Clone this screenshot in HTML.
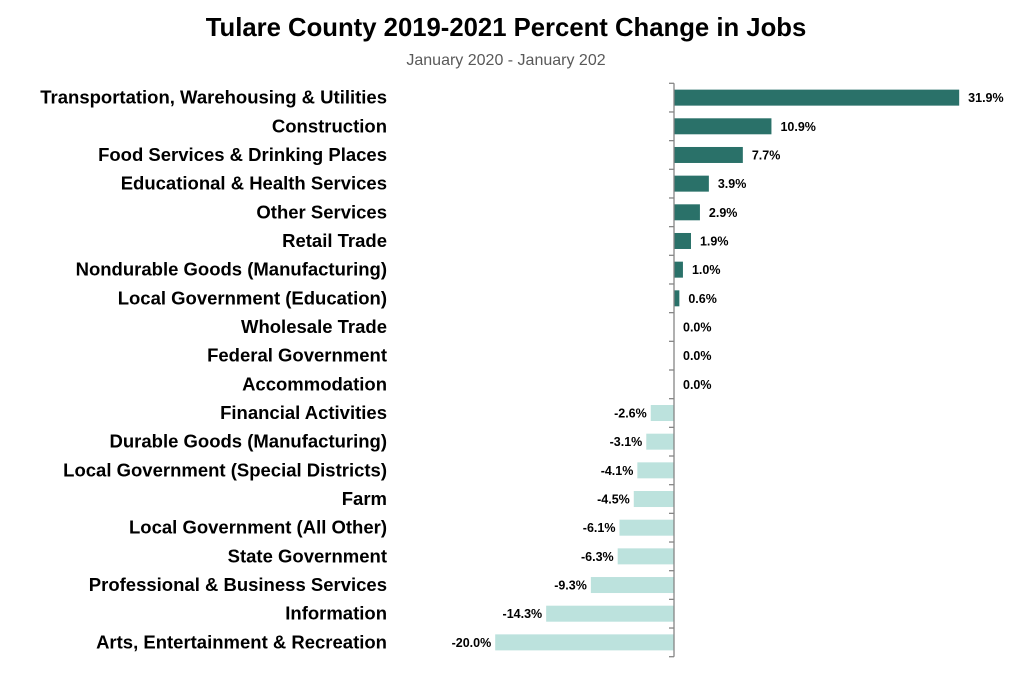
<!DOCTYPE html>
<html><head><meta charset="utf-8"><style>
body{margin:0;background:#fff;font-family:"Liberation Sans",sans-serif}
</style></head><body>
<svg id="chart" width="1011" height="671" xmlns="http://www.w3.org/2000/svg">
<text x="506" y="36" text-anchor="middle" font-size="25.7" font-weight="bold" fill="#000">Tulare County 2019-2021 Percent Change in Jobs</text>
<text x="506" y="65" text-anchor="middle" font-size="16" fill="#595959">January 2020 - January 202</text>
<g id="bars"></g>
</svg>
<script>
const categories=["Transportation, Warehousing & Utilities","Construction","Food Services & Drinking Places","Educational & Health Services","Other Services","Retail Trade","Nondurable Goods (Manufacturing)","Local Government (Education)","Wholesale Trade","Federal Government","Accommodation","Financial Activities","Durable Goods (Manufacturing)","Local Government (Special Districts)","Farm","Local Government (All Other)","State Government","Professional & Business Services","Information","Arts, Entertainment & Recreation"];
const values=[31.9,10.9,7.7,3.9,2.9,1.9,1.0,0.6,0.0,0.0,0.0,-2.6,-3.1,-4.1,-4.5,-6.1,-6.3,-9.3,-14.3,-20.0];
const NS="http://www.w3.org/2000/svg";
const g=document.getElementById('bars');
const x0=674, scale=8.94, yTop=83.3, step=(656.7-83.3)/categories.length;
const xs=v=>x0+v*scale;
const yc=i=>yTop+step*(i+0.5);
function mk(t,a){const e=document.createElementNS(NS,t);for(const k in a)e.setAttribute(k,a[k]);g.appendChild(e);return e;}
categories.forEach((c,i)=>{
  const v=values[i];
  const bx=Math.min(xs(0),xs(v)), w=Math.abs(xs(v)-xs(0));
  const r=mk('rect',{x:bx,y:yc(i)-8,width:w,height:16,fill:v>0?'#2a7169':'#bce2dd'});
  
  
  const lab=mk('text',{x:387,y:yc(i)+6,'text-anchor':'end','font-size':'18.5','font-weight':'bold',fill:'#000'});
  lab.textContent=c;
  
  
  const vt=mk('text',{x:v>=0?xs(v)+9:xs(v)-4,y:yc(i)+4.5,'text-anchor':v>=0?'start':'end','font-size':'12.5','font-weight':'bold',fill:'#000'});
  vt.textContent=v.toFixed(1)+'%';
  
  
});
for(let i=0;i<=categories.length;i++){
  const y=yTop+step*i;
  const t=mk('line',{x1:x0-5,x2:x0,y1:y,y2:y,stroke:'#868686','stroke-width':1.3});
  
  
}
const ax=mk('line',{x1:x0,x2:x0,y1:yTop,y2:656.7,stroke:'#868686','stroke-width':1.3});


</script>
</body></html>
